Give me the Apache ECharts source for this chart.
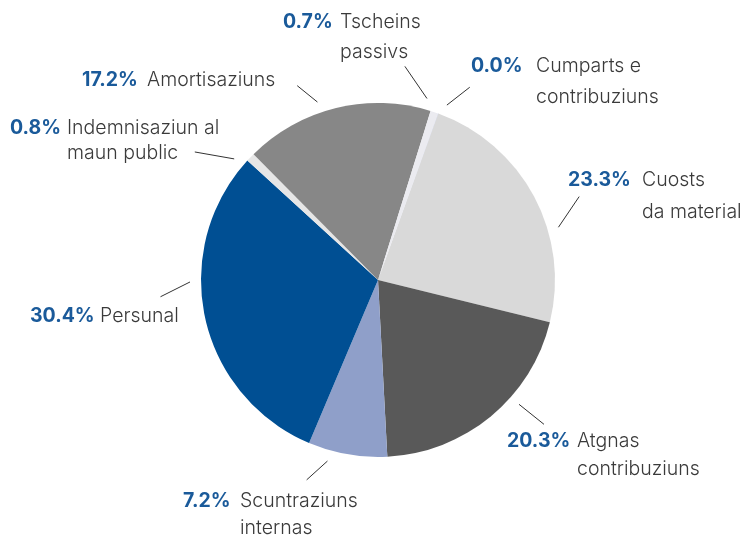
<!DOCTYPE html>
<html>
<head>
<meta charset="utf-8">
<script src="https://cdn.jsdelivr.net/npm/echarts@6/dist/echarts.min.js"></script>
<style>
  html, body { margin: 0; padding: 0; background: #fff; }
  #chart { width: 746px; height: 537px; }
</style>
</head>
<body>
<div id="chart"></div>
<script>
// slices in clockwise order, starting at the top
const categories = [
  'Cumparts e\ncontribuziuns',
  'Cuosts\nda material',
  'Atgnas\ncontribuziuns',
  'Scuntraziuns\ninternas',
  'Persunal',
  'Indemnisaziun al\nmaun public',
  'Amortisaziuns',
  'Tscheins\npassivs'
];
const shares = [0.03, 23.3, 20.3, 7.2, 30.4, 0.8, 17.2, 0.7];
const sliceColors = ['#8d9bd6', '#d9d9d9', '#595959', '#8f9fc9', '#004f93', '#e6e6e6', '#878787', '#ebebf0'];

const center = [378, 280];
const radius = 177;

// callouts: where the leader line touches (angle, deg), its direction and length,
// then where the text block sits (left x, middle of first line) and spacing
const callouts = [
  { a: 68.5, d: 38, len: 29, x: 471, y: 66, gap: 13, lh: 31 },
  { a: 16.3, d: 55.9, len: 37, x: 568, y: 180, gap: 11, lh: 32 },
  { a: -41.4, d: -38.7, len: 32, x: 507, y: 441, gap: 6, lh: 28 },
  { a: -105.6, d: -137.9, len: 28, x: 183, y: 501, gap: 9, lh: 27 },
  { a: -179.4, d: -153.4, len: 33, x: 30, y: 316, gap: 5, lh: 29 },
  { a: 139.9, d: 170, len: 40, x: 10, y: 128, gap: 5, lh: 25 },
  { a: 108.8, d: 141, len: 26, x: 82, y: 80, gap: 9, lh: 29 },
  { a: 74.9, d: 124.5, len: 39, x: 283, y: 22, gap: 7, lh: 30 }
];

const pctStyle = { fontFamily: 'Inter', fontWeight: 700, fontSize: 19.5, color: '#1a5a9a' };
const nameStyle = { fontFamily: 'Inter', fontWeight: 300, fontSize: 19.5, color: '#3a3a3a' };

const ctx = document.createElement('canvas').getContext('2d');
function textWidth(str, st) {
  ctx.font = st.fontWeight + ' ' + st.fontSize + 'px ' + st.fontFamily;
  return ctx.measureText(str).width;
}

const pieData = categories.map((name, i) => {
  const pct = shares[i].toFixed(1) + '%';
  const c = callouts[i];
  const w = Math.ceil(textWidth(pct, pctStyle)) + c.gap;
  return {
    name: name,
    value: shares[i],
    itemStyle: { color: sliceColors[i] },
    label: {
      rich: {
        p: Object.assign({ width: w, lineHeight: c.lh }, pctStyle),
        pad: { width: w, lineHeight: c.lh },
        n: Object.assign({ lineHeight: c.lh }, nameStyle)
      }
    }
  };
});

const rad = Math.PI / 180;
const lineStart = radius + 11;

const chart = echarts.init(document.getElementById('chart'));
chart.setOption({
  animation: false,
  backgroundColor: '#fff',
  series: [{
    type: 'pie',
    center: center,
    radius: radius,
    startAngle: 70.2,
    clockwise: true,
    avoidLabelOverlap: false,
    itemStyle: { borderWidth: 0 },
    emphasis: { disabled: true },
    label: {
      show: true,
      position: 'outside',
      formatter: (p) => {
        const lines = categories[p.dataIndex].split('\n');
        const pct = shares[p.dataIndex].toFixed(1) + '%';
        let s = '{p|' + pct + '}{n|' + lines[0] + '}';
        for (let k = 1; k < lines.length; k++) {
          s += '\n{pad| }{n|' + lines[k] + '}';
        }
        return s;
      }
    },
    labelLine: {
      show: true,
      length: 20,
      length2: 0,
      lineStyle: { color: '#333', width: 1 }
    },
    labelLayout: (params) => {
      const c = callouts[params.dataIndex];
      const sx = center[0] + lineStart * Math.cos(c.a * rad);
      const sy = center[1] - lineStart * Math.sin(c.a * rad);
      const ex = sx + c.len * Math.cos(c.d * rad);
      const ey = sy - c.len * Math.sin(c.d * rad);
      return {
        x: c.x,
        y: c.y - c.lh / 2,
        align: 'left',
        verticalAlign: 'top',
        labelLinePoints: [[sx, sy], [ex, ey], [ex, ey]]
      };
    },
    data: pieData
  }]
});
</script>
</body>
</html>
